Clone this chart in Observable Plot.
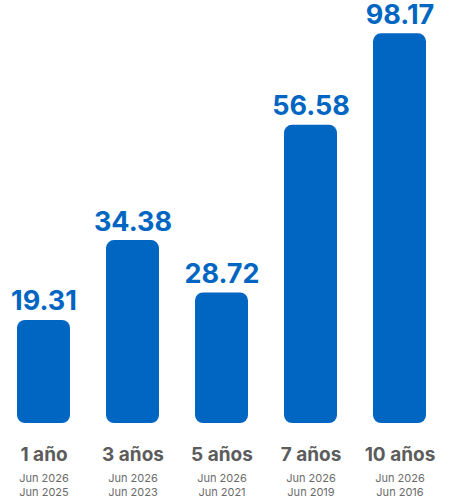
<!DOCTYPE html>
<html>
<head>
<meta charset="utf-8">
<script src="https://cdn.jsdelivr.net/npm/d3@7"></script>
<script src="https://cdn.jsdelivr.net/npm/@observablehq/plot@0.6"></script>
<style>
  html, body { margin: 0; padding: 0; background: #fff; }
  #chart svg { display: block; }
</style>
</head>
<body>
<div id="chart"></div>
<script>
// Categories and labels
const periods = ["1 año", "3 años", "5 años", "7 años", "10 años"];
const values = [19.31, 34.38, 28.72, 56.58, 98.17];            // label values
const barLength = [19.5, 34.6, 24.7, 56.4, 73.7];             // bar lengths
const endDates = ["Jun 2026", "Jun 2026", "Jun 2026", "Jun 2026", "Jun 2026"];
const startDates = ["Jun 2025", "Jun 2023", "Jun 2021", "Jun 2019", "Jun 2016"];

const data = periods.map((p, i) => ({
  period: p,
  value: values[i],
  len: barLength[i],
  end: endDates[i],
  start: startDates[i]
}));

const blue = "#0066c2";
const font = "Inter, 'Noto Sans', sans-serif";

const chart = Plot.plot({
  width: 449,
  height: 498,
  marginTop: 0,
  marginBottom: 75,
  marginLeft: 16,
  marginRight: 21,
  style: { fontFamily: font, background: "#fff", overflow: "visible" },
  x: { domain: periods, paddingInner: 0.4, paddingOuter: 0, axis: null },
  y: { domain: [0, 80], axis: null },
  marks: [
    Plot.barY(data, { x: "period", y: "len", fill: blue, rx: 8 }),
    Plot.text(data, {
      x: "period", y: "len", text: d => d.value.toFixed(2),
      lineAnchor: "bottom", dy: -10, fill: blue,
      fontSize: 27, fontWeight: 700
    }),
    Plot.text(data, {
      x: "period", text: "period", frameAnchor: "bottom",
      lineAnchor: "bottom", dy: 37, fill: "#5c5c5c",
      fontSize: 19, fontWeight: 700
    }),
    Plot.text(data, {
      x: "period", text: "end", frameAnchor: "bottom",
      lineAnchor: "bottom", dy: 58, fill: "#6b6b6b",
      fontSize: 11
    }),
    Plot.text(data, {
      x: "period", text: "start", frameAnchor: "bottom",
      lineAnchor: "bottom", dy: 72, fill: "#6b6b6b",
      fontSize: 11
    })
  ]
});

document.getElementById("chart").appendChild(chart);
</script>
</body>
</html>
